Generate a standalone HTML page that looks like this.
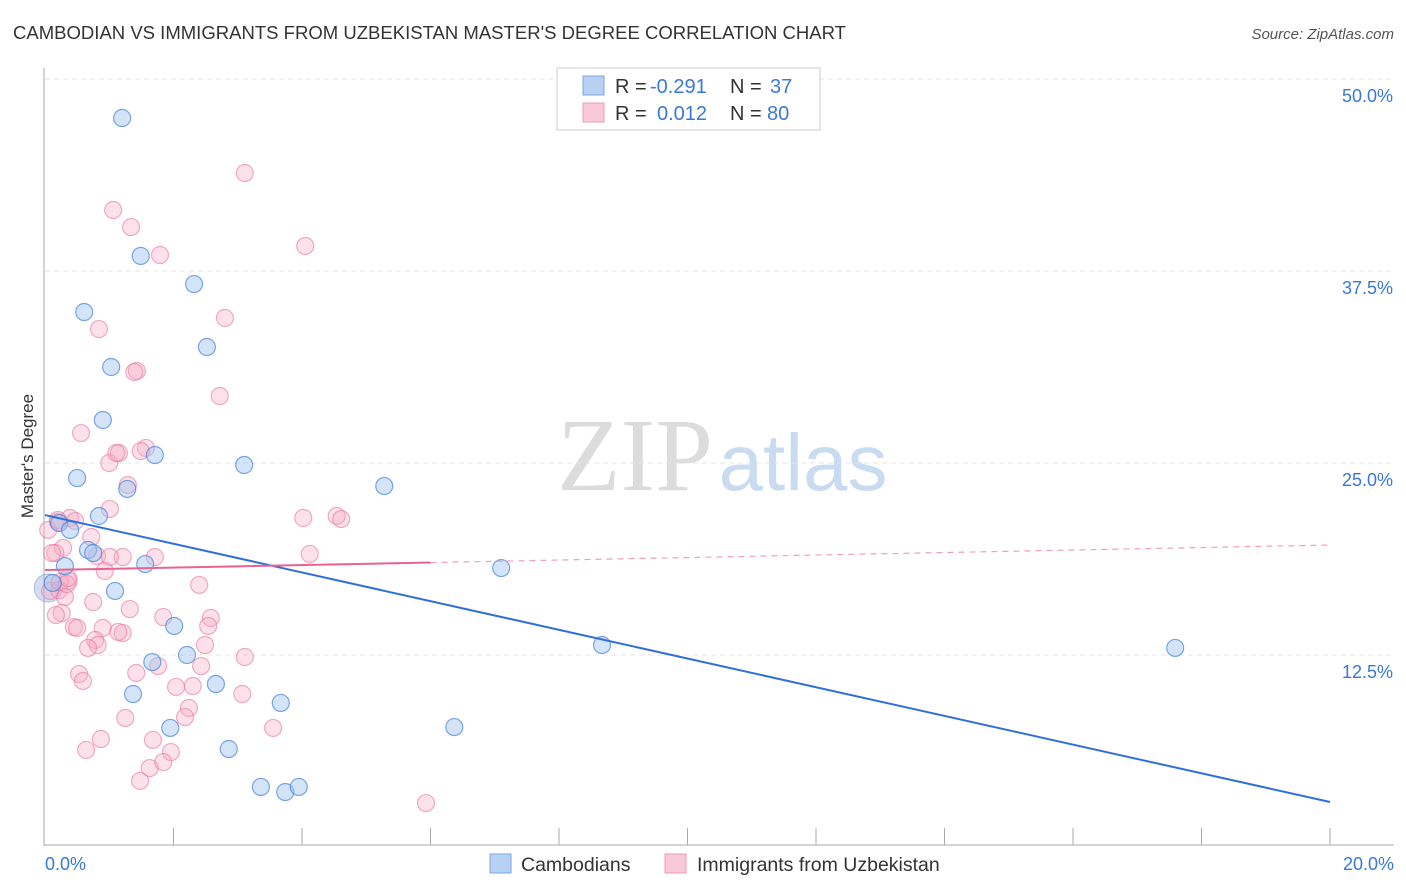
<!DOCTYPE html>
<html><head><meta charset="utf-8"><style>
body{margin:0;background:#fff;font-family:"Liberation Sans",sans-serif;}
svg{display:block}
</style></head><body>
<svg id="chart" width="1406" height="892" xmlns="http://www.w3.org/2000/svg">
<text x="13" y="39" font-size="18" fill="#333" textLength="833" lengthAdjust="spacingAndGlyphs">CAMBODIAN VS IMMIGRANTS FROM UZBEKISTAN MASTER'S DEGREE CORRELATION CHART</text>
<text x="1394" y="39" font-size="15" fill="#555" font-style="italic" text-anchor="end">Source: ZipAtlas.com</text>
<text x="33" y="456" font-size="17" fill="#333" text-anchor="middle" transform="rotate(-90 33 456)">Master's Degree</text>
<g>
<text x="635" y="490" font-size="104" fill="#dcdcdc" font-family="Liberation Serif,serif" text-anchor="middle">ZIP</text>
<text x="803" y="490" font-size="80" fill="#c9dbf1" text-anchor="middle">atlas</text>
</g>
<g id="grid"></g>
<g id="axes"></g>
<g id="pts"></g>
<g id="lines"></g>
<g>
<rect x="557" y="68" width="263" height="62" fill="#fff" stroke="#ccc"/>
<rect x="583" y="76" width="21" height="19" fill="#b8d1f3" stroke="#7ea6e0"/>
<rect x="583" y="103" width="21" height="19" fill="#f9c9d8" stroke="#ee9ab5"/>
<text x="615" y="93" font-size="20" fill="#333">R = <tspan fill="#3a78d8" x="650">-0.291</tspan><tspan x="730">N = </tspan><tspan fill="#3a78d8" x="770">37</tspan></text>
<text x="615" y="120" font-size="20" fill="#333">R = <tspan fill="#3a78d8" x="657">0.012</tspan><tspan x="730">N = </tspan><tspan fill="#3a78d8" x="767">80</tspan></text>
</g>
<g>
<rect x="490" y="854" width="21" height="19" fill="#b8d1f3" stroke="#7ea6e0"/>
<text x="521" y="871" font-size="19.5" fill="#333">Cambodians</text>
<rect x="665" y="854" width="21" height="19" fill="#f9c9d8" stroke="#ee9ab5"/>
<text x="697" y="871" font-size="19.5" fill="#333">Immigrants from Uzbekistan</text>
</g>
</svg>
<script>
const yTicks=[12.5,25,37.5,50];
const yTickLabels=["12.5%","25.0%","37.5%","50.0%"];
const xTickLabels=["0.0%","20.0%"];
const blueX=[1.20,1.49,2.32,0.61,2.52,1.03,0.90,1.71,3.10,0.50,1.28,5.28,0.84,0.22,0.39,0.67,0.75,0.31,1.56,7.10,1.09,2.01,8.67,17.59,2.21,1.67,2.66,1.37,3.67,6.37,1.95,2.86,3.36,3.74,3.95,0.12];
const blueY=[47.46,38.48,36.65,34.83,32.55,31.25,27.80,25.52,24.87,24.02,23.31,23.50,21.55,21.09,20.64,19.34,19.14,18.29,18.42,18.16,16.67,14.39,13.15,12.96,12.50,12.04,10.61,9.96,9.38,7.81,7.75,6.38,3.91,3.58,3.91,17.19];
const pinkX=[3.11,1.06,1.34,4.05,1.79,2.80,0.84,1.43,1.39,2.72,0.56,1.00,1.57,1.15,1.11,1.49,1.29,1.01,0.39,0.20,4.54,4.61,4.02,0.05,0.72,0.28,0.16,0.11,0.81,1.21,1.01,1.71,4.12,0.37,0.22,0.93,2.40,0.31,0.75,1.32,0.26,1.84,2.58,0.17,0.45,0.50,0.90,1.21,1.14,2.54,0.78,0.82,0.67,2.49,2.43,1.76,3.11,0.53,0.59,1.42,2.04,2.30,3.07,2.24,2.18,1.25,3.55,0.87,1.68,0.64,1.96,1.63,1.84,1.48,5.93,0.08,0.23,0.34,0.36,0.20,0.47];
const pinkY=[43.88,41.47,40.36,39.13,38.54,34.44,33.72,30.99,30.92,29.36,26.95,25.00,25.98,25.65,25.65,25.78,23.57,22.01,21.42,21.16,21.55,21.35,21.42,20.64,20.18,19.47,19.14,19.14,18.95,18.88,18.88,18.88,19.08,17.32,16.73,17.97,17.06,16.28,15.95,15.49,15.23,14.97,14.91,15.10,14.32,14.26,14.26,13.93,14.00,14.39,13.48,13.15,12.96,13.15,11.78,11.78,12.37,11.26,10.81,11.33,10.42,10.48,9.96,9.05,8.46,8.40,7.75,7.03,6.97,6.32,6.18,5.14,5.53,4.30,2.86,16.67,17.25,17.12,17.51,21.29,21.22];
const blueBig=[0.05,16.86];
const blueTrend=[21.61,2.93];
const pinkTrend=[18.03,19.66];
const pinkSolidEnd=6.0;
const X=v=>45+v*64.25, Y=v=>847-v*15.36;
const NS="http://www.w3.org/2000/svg";
function mk(tag,attrs,parent){const e=document.createElementNS(NS,tag);for(const k in attrs)e.setAttribute(k,attrs[k]);document.getElementById(parent).appendChild(e);return e;}
yTicks.forEach((t,i)=>{
 const l=mk('line',{x1:45,x2:1394,y1:Y(t),y2:Y(t),stroke:'#e4e4e4','stroke-dasharray':'5,4'},'grid');
 
 
 const tx=mk('text',{x:1393,y:Y(t)+23,'font-size':18,fill:'#3a78d8','text-anchor':'end'},'axes');
 tx.textContent=yTickLabels[i];
 
 
});
let ax=mk('line',{x1:44,x2:44,y1:68,y2:846,stroke:'#aaa'},'axes');


ax=mk('line',{x1:44,x2:1394,y1:845,y2:845,stroke:'#aaa'},'axes');


for(let k=1;k<=10;k++){const t=mk('line',{x1:X(k*2),x2:X(k*2),y1:828,y2:845,stroke:'#aaa'},'axes');
 
 }
[[0,'start',45],[20,'end',1394]].forEach((d,i)=>{const t=mk('text',{x:d[2],y:870,'font-size':18,fill:'#3a78d8','text-anchor':d[1]},'axes');t.textContent=xTickLabels[i];
 
 });
const bb=mk('circle',{cx:X(blueBig[0]),cy:Y(blueBig[1]),r:14,fill:'rgba(160,180,230,0.45)',stroke:'rgba(130,150,210,0.6)'},'pts');


pinkX.forEach((x,i)=>{const c=mk('circle',{cx:X(x),cy:Y(pinkY[i]),r:8.5,fill:'rgba(246,170,195,0.35)',stroke:'rgba(232,120,160,0.6)','stroke-width':1.2},'pts');
 
 });
blueX.forEach((x,i)=>{const c=mk('circle',{cx:X(x),cy:Y(blueY[i]),r:8.5,fill:'rgba(160,195,240,0.45)',stroke:'rgba(70,130,220,0.7)','stroke-width':1.2},'pts');
 
 });
let L=mk('line',{x1:X(0),y1:Y(blueTrend[0]),x2:X(20),y2:Y(blueTrend[1]),stroke:'#2f6fdb','stroke-width':2},'lines');


const py=x=>pinkTrend[0]+(pinkTrend[1]-pinkTrend[0])*x/20;
L=mk('line',{x1:X(0),y1:Y(py(0)),x2:X(pinkSolidEnd),y2:Y(py(pinkSolidEnd)),stroke:'#e8648e','stroke-width':2},'lines');


L=mk('line',{x1:X(pinkSolidEnd),y1:Y(py(pinkSolidEnd)),x2:X(20),y2:Y(py(20)),stroke:'#eea0b8','stroke-width':1.2,'stroke-dasharray':'6,5'},'lines');


</script>
</body></html>
